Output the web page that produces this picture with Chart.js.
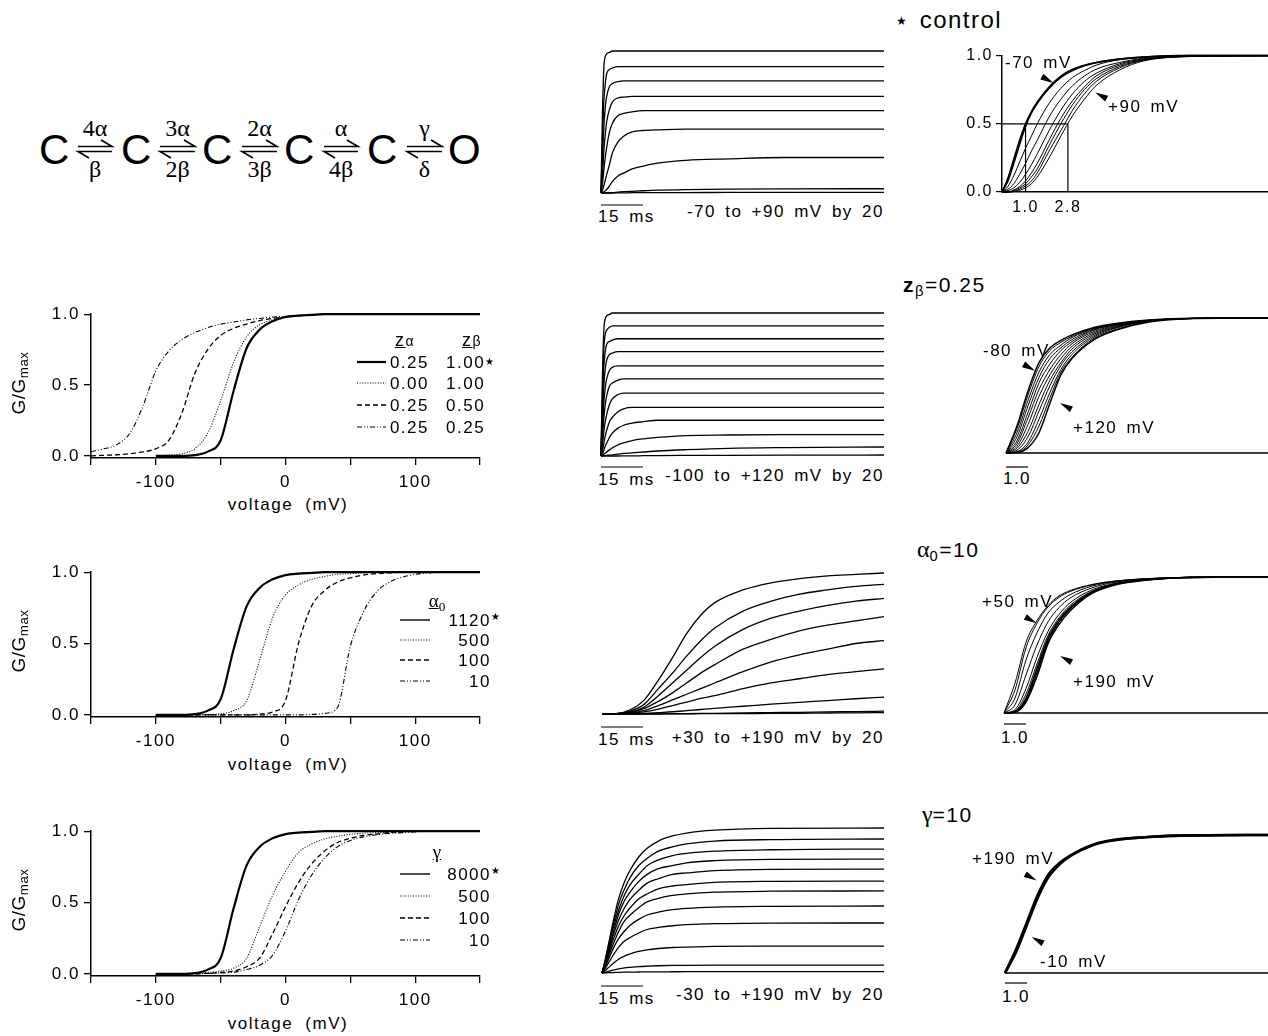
<!DOCTYPE html>
<html>
<head>
<meta charset="utf-8">
<title>Gating model simulations</title>
<script src="https://cdn.jsdelivr.net/npm/chart.js@4.4.1/dist/chart.umd.min.js"></script>
<style>
  html, body { margin: 0; background: #fff; }
  body { position: relative; width: 1268px; height: 1036px; overflow: hidden;
         font-family: "Liberation Sans", Arial, sans-serif; color: #000; }
  canvas, svg { position: absolute; }
  .t { position: absolute; white-space: nowrap; line-height: 1; letter-spacing: 1.5px; word-spacing: 3px; }
  .serif { font-family: "Liberation Serif", "Times New Roman", serif; letter-spacing: 0; }
  sub { font-size: 70%; vertical-align: -0.3em; line-height: 0; }
  .star { font-size: 10px; position: relative; top: -3px; letter-spacing: 0; }
</style>
</head>
<body>
<svg id="ink" width="1268" height="1036" style="left:0;top:0"></svg>
<script>
Chart.defaults.font.family = '"Liberation Sans", Arial, sans-serif';
Chart.defaults.font.size = 17;
Chart.defaults.color = '#000';

// ---------- G/Gmax vs voltage (mV) ----------
const vWide = [-150, -140, -130, -120, -110, -100, -90, -80, -70, -60, -50, -40, -30, -20, -10,
               0, 10, 20, 30, 40, 50, 60, 70, 80, 90, 100, 110, 120, 130, 140, 150];
const vNarrow = [-100, -90, -80, -70, -60, -50, -40, -30, -20, -10,
                 0, 10, 20, 30, 40, 50, 60, 70, 80, 90, 100, 110, 120, 130, 140, 150];

// control (za 0.25, zb 1.00, a0 1120, gamma 8000)
const gControl = [0, 0, 0, .005, .03, .11, .46, .76, .89, .95, .98, .99, .995, 1, 1, 1, 1, 1, 1, 1, 1, 1, 1, 1, 1, 1];
// z panel
const gZa0 = [0, .005, .015, .05, .16, .39, .66, .84, .925, .96, .98, .99, .995, 1, 1, 1, 1, 1, 1, 1, 1, 1, 1, 1, 1, 1];
const gZb05 = [0, .004, .008, .015, .028, .05, .11, .3, .58, .75, .85, .9, .93, .955, .97, .98, .99, .995,
               1, 1, 1, 1, 1, 1, 1, 1, 1, 1, 1, 1, 1];
const gZb025 = [.03, .05, .08, .16, .35, .6, .74, .82, .87, .905, .93, .945, .96, .97, .98, .985, .99, .995,
                1, 1, 1, 1, 1, 1, 1, 1, 1, 1, 1, 1, 1];
// alpha0 panel
const gA500 = [0, 0, 0, 0, .003, .008, .03, .1, .38, .68, .84, .91, .95, .97, .985, .99, .995, 1, 1, 1, 1, 1, 1, 1, 1, 1];
const gA100 = [0, 0, 0, 0, 0, 0, 0, 0, .005, .02, .1, .5, .76, .87, .93, .96, .98, .99, .995, 1, 1, 1, 1, 1, 1, 1];
const gA10 = [0, 0, 0, 0, 0, 0, 0, 0, 0, 0, 0, 0, .003, .01, .05, .48, .72, .86, .93, .965, .985, .995, 1, 1, 1, 1];
// gamma panel
const gG500 = [0, 0, 0, .003, .01, .02, .04, .11, .33, .55, .72, .85, .91, .945, .965, .978, .986, .99, .994, .997, 1, 1, 1, 1, 1, 1];
const gG100 = [0, 0, 0, 0, .004, .01, .02, .05, .11, .28, .47, .64, .77, .86, .92, .95, .97, .98, .99, .995, 1, 1, 1, 1, 1, 1];
const gG10 = [0, 0, 0, 0, .003, .006, .012, .03, .06, .13, .3, .52, .69, .81, .89, .935, .96, .975, .985, .99, .995, 1, 1, 1, 1, 1];

const zAlphaVals = ['0.25', '0.00', '0.25', '0.25'];
const zBetaVals = ['1.00', '1.00', '0.50', '0.25'];
const alpha0Vals = ['1120', '500', '100', '10'];
const gammaVals = ['8000', '500', '100', '10'];

const gTicks = [0, 0.5, 1];
const vTicks = [-150, -100, -50, 0, 50, 100, 150];
const vLabelled = [-100, 0, 100];

// ---------- currents (relative to largest trace), time in ms ----------
const tFast = [0, 0.5, 1, 1.5, 2, 3, 4, 6, 8, 11, 15, 20, 30, 45, 65, 100];
// control, +90 down to -70 mV
const iControl = [
  [0, .55, .88, .96, .98, .99, 1, 1, 1, 1, 1, 1, 1, 1, 1, 1],
  [0, .36, .64, .77, .84, .87, .88, .89, .89, .89, .89, .89, .89, .89, .89, .89],
  [0, .24, .46, .6, .68, .75, .77, .785, .79, .79, .79, .79, .79, .79, .79, .79],
  [0, .12, .29, .41, .5, .59, .64, .67, .675, .68, .68, .68, .68, .68, .68, .68],
  [0, .06, .16, .25, .32, .43, .49, .545, .56, .572, .58, .58, .58, .58, .58, .58],
  [0, .02, .05, .09, .13, .2, .28, .36, .4, .43, .44, .445, .45, .45, .45, .45],
  [0, .003, .008, .015, .025, .05, .08, .12, .14, .17, .19, .21, .23, .24, .25, .25],
  [0, 0, 0, 0, 0, .001, .003, .006, .009, .012, .016, .02, .024, .027, .029, .03],
  [0, 0, 0, 0, 0, 0, 0, .001, .001, .002, .002, .003, .003, .004, .004, .004]
];
// zb = 0.25, +120 down to -100 mV
const iZb = [
  [0, .55, .88, .96, .98, .99, 1, 1, 1, 1, 1, 1, 1, 1, 1, 1],
  [0, .44, .75, .85, .88, .9, .91, .91, .91, .91, .91, .91, .91, .91, .91, .91],
  [0, .34, .62, .73, .78, .8, .81, .82, .82, .82, .82, .82, .82, .82, .82, .82],
  [0, .26, .49, .61, .67, .71, .72, .73, .73, .73, .73, .73, .73, .73, .73, .73],
  [0, .19, .37, .48, .54, .6, .62, .63, .63, .63, .63, .63, .63, .63, .63, .63],
  [0, .13, .26, .36, .42, .49, .51, .53, .54, .54, .54, .54, .54, .54, .54, .54],
  [0, .075, .17, .24, .29, .36, .4, .43, .44, .44, .44, .44, .44, .44, .44, .44],
  [0, .037, .09, .14, .18, .24, .27, .31, .33, .34, .34, .34, .34, .34, .34, .34],
  [0, .015, .04, .07, .09, .13, .16, .195, .215, .23, .24, .25, .25, .25, .25, .25],
  [0, .005, .012, .02, .028, .043, .057, .078, .092, .108, .12, .13, .143, .147, .149, .15],
  [0, .001, .001, .003, .004, .006, .008, .013, .018, .022, .028, .035, .044, .054, .059, .063],
  [0, 0, 0, 0, 0, 0, 0, 0, .001, .001, .002, .003, .004, .005, .006, .007]
];
const tSlow = [0, 5, 10, 15, 20, 25, 30, 35, 40, 50, 60, 70, 80, 90, 100];
// alpha0 = 10, +190 down to +30 mV
const iA0 = [
  [0, .003, .03, .1, .24, .4, .57, .7, .79, .88, .93, .96, .98, .99, 1],
  [0, .002, .02, .07, .18, .29, .41, .52, .61, .73, .8, .85, .88, .905, .92],
  [0, .002, .015, .05, .13, .22, .31, .4, .48, .6, .68, .73, .77, .8, .82],
  [0, .001, .01, .04, .09, .15, .22, .29, .35, .46, .53, .59, .63, .66, .69],
  [0, .001, .007, .025, .06, .1, .14, .18, .22, .3, .37, .42, .46, .5, .52],
  [0, 0, .004, .015, .035, .06, .085, .11, .13, .18, .22, .25, .28, .3, .32],
  [0, 0, .001, .004, .01, .016, .024, .032, .04, .055, .07, .083, .095, .108, .12],
  [0, 0, 0, 0, .001, .002, .003, .004, .005, .008, .01, .012, .015, .017, .02],
  [0, 0, 0, 0, 0, .001, .001, .002, .002, .003, .004, .005, .007, .008, .01]
];
const tGam = [0, 1, 2, 4, 6, 8, 10, 13, 16, 20, 25, 30, 40, 60, 100];
// gamma = 10, +190 down to -30 mV
const iGam = [
  [0, .08, .17, .36, .52, .63, .71, .8, .86, .91, .945, .965, .985, .997, 1],
  [0, .07, .16, .33, .48, .58, .66, .74, .79, .84, .87, .89, .91, .92, .924],
  [0, .07, .15, .31, .44, .54, .61, .68, .74, .78, .81, .825, .84, .85, .855],
  [0, .06, .13, .28, .41, .5, .56, .63, .68, .72, .74, .76, .775, .784, .786],
  [0, .06, .12, .26, .37, .45, .51, .57, .62, .65, .68, .69, .706, .715, .717],
  [0, .05, .11, .23, .33, .4, .45, .51, .545, .58, .6, .61, .625, .632, .634],
  [0, .045, .1, .2, .29, .36, .4, .45, .49, .515, .535, .546, .558, .564, .566],
  [0, .037, .08, .17, .24, .29, .33, .37, .4, .42, .437, .446, .455, .46, .462],
  [0, .028, .059, .124, .18, .22, .245, .276, .3, .314, .326, .333, .34, .344, .345],
  [0, .015, .032, .067, .097, .117, .132, .149, .16, .169, .176, .179, .183, .185, .186],
  [0, .004, .009, .02, .029, .035, .039, .044, .047, .05, .052, .053, .054, .055, .055],
  [0, .001, .002, .003, .005, .006, .006, .007, .008, .008, .0085, .009, .009, .009, .009]
];
const protocols = ['-70 to +90 mV by 20', '-100 to +120 mV by 20', '+30 to +190 mV by 20', '-30 to +190 mV by 20'];

// ---------- normalized currents, scaled time ----------
const tNorm1 = [0, .25, .5, .75, 1, 1.25, 1.5, 2, 2.5, 3, 3.5, 4, 5, 6, 8, 11.3];
// control, -70 up to +90 mV
const nControl = [
  [0, .1, .24, .38, .5, .59, .66, .77, .85, .9, .93, .95, .975, .99, 1, 1],
  [0, .08, .21, .35, .48, .58, .65, .76, .84, .89, .925, .948, .974, .99, 1, 1],
  [0, .04, .12, .22, .32, .41, .5, .65, .76, .84, .89, .93, .97, .985, .998, 1],
  [0, .02, .06, .13, .21, .3, .38, .55, .68, .78, .85, .9, .95, .98, .997, 1],
  [0, .01, .03, .07, .13, .2, .28, .45, .6, .72, .81, .87, .94, .975, .996, 1],
  [0, 0, .015, .04, .08, .14, .21, .38, .54, .67, .77, .85, .93, .97, .995, 1],
  [0, 0, .01, .03, .06, .11, .17, .34, .5, .64, .75, .83, .92, .968, .995, 1],
  [0, 0, .005, .02, .045, .08, .14, .3, .45, .6, .72, .81, .91, .965, .994, 1],
  [0, 0, .003, .012, .03, .06, .11, .25, .41, .56, .68, .78, .895, .96, .993, 1]
];
const halfLevel = 0.5;
const tHalfFast = 1.0;
const tHalfSlow = 2.8;

const tNorm = [0, .5, 1, 1.5, 2, 2.5, 3, 4, 5, 6.5, 8.5, 12];
// zb = 0.25, -100 up to +120 mV
const nZb = [
  [0, .2, .46, .67, .78, .835, .875, .93, .96, .985, .998, 1],
  [0, .18, .43, .64, .76, .82, .865, .925, .958, .984, .998, 1],
  [0, .15, .39, .6, .73, .8, .855, .92, .955, .983, .997, 1],
  [0, .12, .35, .56, .7, .78, .84, .915, .952, .982, .997, 1],
  [0, .09, .3, .52, .66, .76, .825, .91, .95, .981, .997, 1],
  [0, .07, .26, .47, .62, .73, .81, .9, .945, .98, .997, 1],
  [0, .05, .21, .42, .58, .7, .79, .89, .94, .979, .997, 1],
  [0, .035, .16, .36, .54, .67, .77, .88, .935, .978, .997, 1],
  [0, .02, .12, .31, .5, .65, .75, .87, .93, .977, .996, 1],
  [0, .01, .08, .25, .45, .62, .73, .86, .925, .976, .996, 1],
  [0, .005, .06, .2, .41, .6, .71, .85, .915, .975, .996, 1],
  [0, .003, .04, .15, .37, .58, .7, .84, .91, .97, .996, 1]
];
// alpha0 = 10, +30 up to +190 mV
const nA0 = [
  [0, .22, .52, .68, .79, .86, .9, .945, .97, .988, .998, 1],
  [0, .17, .48, .66, .78, .85, .893, .942, .968, .988, .998, 1],
  [0, .11, .39, .59, .735, .815, .87, .933, .965, .987, .998, 1],
  [0, .06, .28, .5, .67, .775, .845, .92, .96, .985, .998, 1],
  [0, .025, .18, .41, .6, .725, .81, .905, .952, .983, .998, 1],
  [0, .015, .14, .36, .57, .7, .79, .895, .948, .981, .997, 1],
  [0, .01, .11, .33, .55, .685, .775, .89, .945, .98, .997, 1],
  [0, .008, .09, .3, .53, .67, .765, .885, .943, .979, .997, 1],
  [0, .005, .08, .27, .51, .65, .75, .88, .94, .978, .997, 1]
];
// gamma = 10, -10 and +190 mV (all traces superimpose)
const nGam = [
  [0, .17, .37, .57, .72, .8, .855, .93, .965, .985, .997, 1],
  [0, .15, .35, .55, .7, .79, .85, .928, .963, .985, .997, 1]
];

// arrow tips on the normalized panels (scaled time, fraction)
const arrowsControl = [{ t: 2.18, f: .80, dir: 'dr' }, { t: 3.96, f: .73, dir: 'ul' }];
const arrowsZb = [{ t: 1.32, f: .61, dir: 'dr' }, { t: 2.45, f: .37, dir: 'ul' }];
const arrowsA0 = [{ t: 1.49, f: .66, dir: 'dr' }, { t: 2.55, f: .42, dir: 'ul' }];
const arrowsGam = [{ t: 1.44, f: .67, dir: 'dr' }, { t: 1.21, f: .26, dir: 'ul' }];

// ---------- helpers ----------
const ink = document.getElementById('ink');

function stroke(d, w, dash) {
  const p = document.createElementNS('http://www.w3.org/2000/svg', 'path');
  p.setAttribute('d', d);
  p.setAttribute('stroke', '#000');
  p.setAttribute('stroke-width', w);
  p.setAttribute('fill', 'none');
  if (dash) p.setAttribute('stroke-dasharray', dash);
  ink.appendChild(p);
}

function text(html, x, y, align, size, cls) {
  const d = document.createElement('div');
  d.className = 't' + (cls ? ' ' + cls : '');
  d.innerHTML = html;
  d.style.fontSize = size + 'px';
  d.style.top = (y - size / 2) + 'px';
  if (align === 'right') d.style.right = (1268 - x) + 'px';
  else if (align === 'center') { d.style.left = x + 'px'; d.style.transform = 'translateX(-50%)'; }
  else d.style.left = x + 'px';
  document.body.appendChild(d);
  return d;
}

function canvasAt(left, top, w, h) {
  const c = document.createElement('canvas');
  c.width = w;
  c.height = h;
  c.style.left = left + 'px';
  c.style.top = top + 'px';
  document.body.appendChild(c);
  return c;
}

function series(xs, ys, style) {
  return Object.assign({
    data: xs.map((x, i) => ({ x: x, y: ys[i] })),
    borderColor: '#000', borderWidth: 1.2, pointRadius: 0,
    cubicInterpolationMode: 'monotone', fill: false, clip: 10
  }, style);
}

// letter spacing like the original figure text
Chart.register({
  id: 'spacing',
  beforeDraw(chart) { chart.ctx.letterSpacing = '1.5px'; }
});

const arrowPlugin = {
  id: 'arrows',
  afterDatasetsDraw(chart, args, opts) {
    const list = opts.list || [];
    const ctx = chart.ctx, xs = chart.scales.x, ys = chart.scales.y;
    ctx.save();
    ctx.fillStyle = '#000';
    list.forEach(a => {
      const px = xs.getPixelForValue(a.t), py = ys.getPixelForValue(a.f);
      const ux = a.dir === 'dr' ? 0.88 : -0.88, uy = a.dir === 'dr' ? 0.48 : -0.48;
      const bx = px - ux * 13, by = py - uy * 13;
      ctx.beginPath();
      ctx.moveTo(px, py);
      ctx.lineTo(bx - uy * 3.2, by + ux * 3.2);
      ctx.lineTo(bx + uy * 3.2, by - ux * 3.2);
      ctx.closePath();
      ctx.fill();
    });
    ctx.restore();
  }
};

function baseOptions(scales, pad, arrows) {
  return {
    responsive: false, animation: false, events: [],
    layout: { padding: pad },
    plugins: { legend: { display: false }, tooltip: { enabled: false }, arrows: { list: arrows || [] } },
    scales: scales
  };
}

// panel without axes: box = [left, top, right, bottom] of the plotting area
function tracePanel(box, xMax, datasets, arrows) {
  const pad = 6;
  const c = canvasAt(box[0] - pad, box[1] - pad, box[2] - box[0] + 2 * pad, box[3] - box[1] + 2 * pad);
  return new Chart(c, {
    type: 'line',
    data: { datasets: datasets },
    options: baseOptions({
      x: { type: 'linear', display: false, min: 0, max: xMax },
      y: { type: 'linear', display: false, min: 0, max: 1 }
    }, pad, arrows),
    plugins: [arrowPlugin]
  });
}

const axisGrid = { drawOnChartArea: false, drawTicks: true, tickLength: 7, color: '#000', lineWidth: 1.3 };
const axisBorder = { display: true, color: '#000', width: 1.5 };

function gvPanel(top, bottom, datasets) {
  const padTop = 10, padRight = 10, yAxisW = 91, xAxisH = 34;
  const c = canvasAt(0, top - padTop, 480 + padRight, padTop + (bottom - top) + xAxisH);
  return new Chart(c, {
    type: 'line',
    data: { datasets: datasets },
    options: baseOptions({
      x: {
        type: 'linear', min: -150, max: 150,
        afterFit: s => { s.height = xAxisH; },
        afterBuildTicks: s => { s.ticks = vTicks.map(v => ({ value: v })); },
        grid: axisGrid, border: axisBorder,
        ticks: { autoSkip: false, maxRotation: 0, padding: 7,
                 callback: v => vLabelled.includes(v) ? String(v) : '' }
      },
      y: {
        type: 'linear', min: -0.015, max: 1,
        afterFit: s => { s.width = yAxisW; },
        afterBuildTicks: s => { s.ticks = gTicks.map(v => ({ value: v })); },
        grid: axisGrid, border: axisBorder,
        ticks: { padding: 4, callback: v => v.toFixed(1) }
      }
    }, { top: padTop, right: padRight, left: 0, bottom: 0 })
  });
}

const sSolid = { borderWidth: 2.2 };
const sDot = { borderWidth: 1.1, borderDash: [1, 1.6] };
const sDash = { borderWidth: 1.3, borderDash: [5, 3] };
const sDashDot = { borderWidth: 1.1, borderDash: [5, 2, 1, 2, 1, 2] };

// ---------- kinetic scheme ----------
const schemeStates = ['C', 'C', 'C', 'C', 'C', 'O'];
const schemeUp = ['4α', '3α', '2α', 'α', 'γ'];
const schemeDown = ['β', '2β', '3β', '4β', 'δ'];
const stateX = [55, 137, 218, 300, 383, 465];
const harpoonX = [[78, 112], [160, 195], [242, 277], [324, 358], [407, 442]];
schemeStates.forEach((s, i) => text(s, stateX[i], 150, 'center', 42, 'serifless'));
harpoonX.forEach((h, i) => {
  stroke(`M${h[0]} 146.5 H${h[1]} L${h[1] - 11} 140`, 1.6);
  stroke(`M${h[1]} 151.5 H${h[0]} L${h[0] + 11} 158`, 1.6);
  text(schemeUp[i], (h[0] + h[1]) / 2, 128, 'center', 24, 'serif');
  text(schemeDown[i], (h[0] + h[1]) / 2, 169, 'center', 24, 'serif');
});

// ---------- G/Gmax panels ----------
gvPanel(310, 458, [
  series(vWide, gZb025, sDashDot),
  series(vWide, gZb05, sDash),
  series(vNarrow, gZa0, sDot),
  series(vNarrow, gControl, sSolid)
]);
gvPanel(568, 717, [
  series(vNarrow, gA10, sDashDot),
  series(vNarrow, gA100, sDash),
  series(vNarrow, gA500, sDot),
  series(vNarrow, gControl, sSolid)
]);
gvPanel(827, 976, [
  series(vNarrow, gG10, sDashDot),
  series(vNarrow, gG100, sDash),
  series(vNarrow, gG500, sDot),
  series(vNarrow, gControl, sSolid)
]);

function sample(x1, x2, y, st) {
  stroke(`M${x1} ${y} H${x2}`, st.borderWidth, st.borderDash ? st.borderDash.join(' ') : null);
}
const legendStyles = [sSolid, sDot, sDash, sDashDot];

// z legend
text('<u>z</u><span style="font-size:14px">α</span>', 405, 340, 'center', 18);
text('<u>z</u><span style="font-size:14px">β</span>', 472, 340, 'center', 18);
[362, 383, 405, 427].forEach((y, i) => {
  sample(357, 386, y, legendStyles[i]);
  text(zAlphaVals[i], 429, y, 'right', 17);
  text(zBetaVals[i] + (i === 0 ? '<span class="star">★</span>' : ''), 446, y, 'left', 17);
});
// alpha0 legend
text('<u>α<sub>0</sub></u>', 437, 600, 'center', 19, 'serif');
[620, 640, 660, 681].forEach((y, i) => {
  sample(400, 430, y, i === 0 ? { borderWidth: 1.4 } : legendStyles[i]);
  text(alpha0Vals[i], 491, y, 'right', 17);
  if (i === 0) text('<span class="star" style="top:0">★</span>', 491, y - 3, 'left', 10);
});
// gamma legend
text('<u>γ</u>', 437, 851, 'center', 19, 'serif');
[874, 896, 918, 940].forEach((y, i) => {
  sample(400, 430, y, i === 0 ? { borderWidth: 1.4 } : legendStyles[i]);
  text(gammaVals[i], 491, y, 'right', 17);
  if (i === 0) text('<span class="star" style="top:0">★</span>', 491, y - 3, 'left', 10);
});

[383, 641, 900].forEach(y => {
  const d = text('G/G<sub>max</sub>', 18, y, 'left', 19);
  d.style.letterSpacing = '0.5px';
  d.style.top = y + 'px';
  d.style.transform = 'translate(-50%, -50%) rotate(-90deg)';
});
[504, 764, 1023].forEach(y => {
  const d = text('voltage (mV)', 288, y, 'center', 17);
  d.style.wordSpacing = '6px';
});

// ---------- current traces ----------
const thin = { borderWidth: 1.3 };
tracePanel([601, 51, 884, 193], 100, iControl.map(r => series(tFast, r, thin)));
tracePanel([601, 313, 884, 456], 100, iZb.map(r => series(tFast, r, thin)));
tracePanel([602, 573, 884, 714], 100, iA0.map(r => series(tSlow, r, thin)));
tracePanel([602, 828, 884, 973], 100, iGam.map(r => series(tGam, r, thin)));

[[205, 216, 211], [467, 479, 475], [727, 739, 737], [986, 998, 994]].forEach((p, i) => {
  stroke(`M601 ${p[0]} H643`, 1.2);
  text('15 ms', 598, p[1], 'left', 17);
  text(protocols[i], 884, p[2], 'right', 17);
});

// ---------- normalized traces ----------
// control panel with axes
(function () {
  const padTop = 10, yAxisW = 50, xAxisH = 26;
  const c = canvasAt(1002 - yAxisW, 53 - padTop, 1268 - (1002 - yAxisW), padTop + 139 + xAxisH);
  const sets = nControl.map((r, i) => series(tNorm1, r, { borderWidth: i < 2 ? 1.6 : 1 }));
  sets.push(series([0, tHalfSlow], [halfLevel, halfLevel], { borderWidth: 1.2, cubicInterpolationMode: 'default', tension: 0 }));
  sets.push(series([tHalfFast, tHalfFast], [0, halfLevel], { borderWidth: 1.2, cubicInterpolationMode: 'default', tension: 0 }));
  sets.push(series([tHalfSlow, tHalfSlow], [0, halfLevel], { borderWidth: 1.2, cubicInterpolationMode: 'default', tension: 0 }));
  new Chart(c, {
    type: 'line',
    data: { datasets: sets },
    options: baseOptions({
      x: {
        type: 'linear', min: 0, max: 11.3,
        afterFit: s => { s.height = xAxisH; },
        afterBuildTicks: s => { s.ticks = [tHalfFast, tHalfSlow].map(v => ({ value: v })); },
        grid: { drawOnChartArea: false, drawTicks: false }, border: axisBorder,
        ticks: { autoSkip: false, maxRotation: 0, padding: 6, font: { size: 16 }, callback: v => v.toFixed(1) }
      },
      y: {
        type: 'linear', min: 0, max: 1,
        afterFit: s => { s.width = yAxisW; },
        afterBuildTicks: s => { s.ticks = gTicks.map(v => ({ value: v })); },
        grid: { drawOnChartArea: false, drawTicks: true, tickLength: 6, color: '#000', lineWidth: 1.2 },
        border: axisBorder,
        ticks: { padding: 3, font: { size: 16 }, callback: v => v.toFixed(1) }
      }
    }, { top: padTop, right: 0, left: 0, bottom: 0 }, arrowsControl),
    plugins: [arrowPlugin]
  });
})();

const zeroT = [0, 12];
const zeroF = [0, 0];
tracePanel([1006, 318, 1270, 453], 12,
  nZb.map((r, i) => series(tNorm, r, { borderWidth: (i === 0 || i === 11) ? 1.5 : 1 }))
    .concat([series(zeroT, zeroF, { borderWidth: 1.3 })]), arrowsZb);
tracePanel([1004, 577, 1268, 713], 12,
  nA0.map((r, i) => series(tNorm, r, { borderWidth: i > 5 ? 1.5 : 1 }))
    .concat([series(zeroT, zeroF, { borderWidth: 1.3 })]), arrowsA0);
tracePanel([1005, 835, 1269, 973], 12,
  nGam.map(r => series(tNorm, r, { borderWidth: 2.6 }))
    .concat([series(zeroT, zeroF, { borderWidth: 1.3 })]), arrowsGam);

// scale bars of the normalized panels
[[1006, 467, 478], [1004, 724, 737], [1005, 983, 996]].forEach(p => {
  stroke(`M${p[0]} ${p[1]} H${p[0] + 22}`, 1.2);
  text('1.0', p[0] + 11, p[2], 'center', 17);
});

// panel titles and voltage tags
text('<span style="font-size:12px;position:relative;top:-3px">★</span> control', 896, 20, 'left', 24);
text('<b>z</b><sub>β</sub>=0.25', 903, 284, 'left', 21);
text('<span class="serif" style="font-size:24px">α</span><sub>0</sub>=10', 917, 547, 'left', 21);
text('<span class="serif" style="font-size:24px">γ</span>=10', 922, 812, 'left', 21);

text('-70 mV', 1005, 62, 'left', 17);
text('+90 mV', 1108, 106, 'left', 17);
text('-80 mV', 983, 350, 'left', 17);
text('+120 mV', 1073, 427, 'left', 17);
text('+50 mV', 982, 601, 'left', 17);
text('+190 mV', 1073, 681, 'left', 17);
text('+190 mV', 972, 858, 'left', 17);
text('-10 mV', 1040, 961, 'left', 17);
</script>
</body>
</html>
